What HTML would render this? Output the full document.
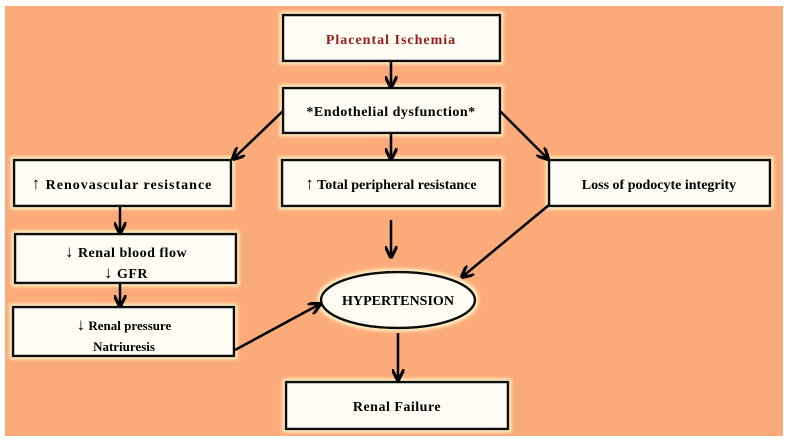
<!DOCTYPE html>
<html><head><style>
body{margin:0;background:#fff;width:789px;height:443px;overflow:hidden}
svg{display:block}
text{font-family:"Liberation Serif",serif;font-weight:bold;font-size:14px;text-anchor:middle}
.b{fill:#fffdf4;stroke:#111;stroke-width:2.5}
.l{stroke:#000;stroke-width:2.5;fill:none;marker-end:url(#a)}
</style></head><body>
<svg width="789" height="443" viewBox="0 0 789 443">
<defs>
<marker id="a" viewBox="0 0 10 10" refX="9" refY="5" markerWidth="5" markerHeight="5" orient="auto"><path d="M0,0 L10,5 L0,10" fill="none" stroke="#000" stroke-width="2.5"/></marker>
<filter id="g" x="-20%" y="-20%" width="140%" height="140%"><feMorphology operator="dilate" radius="2" in="SourceAlpha" result="d"/><feGaussianBlur in="d" stdDeviation="1.5" result="bl"/><feFlood flood-color="#fff6c8"/><feComposite in2="bl" operator="in"/><feMerge><feMergeNode/><feMergeNode in="SourceGraphic"/></feMerge></filter>
</defs>
<rect x="5" y="6" width="778" height="430" fill="#fbab7a"/>
<g filter="url(#g)">
<rect class="b" x="283" y="15" width="217" height="46"/>
<rect class="b" x="283" y="88" width="217" height="45"/>
<rect class="b" x="14" y="160" width="217" height="46"/>
<rect class="b" x="282" y="160" width="218" height="46"/>
<rect class="b" x="549" y="160" width="221" height="46"/>
<rect class="b" x="15" y="234" width="221" height="49"/>
<rect class="b" x="13" y="307" width="221" height="49"/>
<ellipse class="b" cx="398" cy="300" rx="77" ry="28"/>
<rect class="b" x="286" y="382" width="222" height="47"/>
</g>
<text x="391" y="44" fill="#9b1b1b" style="letter-spacing:1px">Placental Ischemia</text>
<text x="391" y="116" style="letter-spacing:.5px">*Endothelial dysfunction*</text>
<text x="122" y="189" style="letter-spacing:1px"><tspan font-size="17">↑</tspan> Renovascular resistance</text>
<text x="391" y="189"><tspan font-size="17">↑</tspan> Total peripheral resistance</text>
<text x="659" y="189">Loss of podocyte integrity</text>
<text x="126" y="257" style="letter-spacing:.5px"><tspan font-size="17">↓</tspan> Renal blood flow</text>
<text x="126" y="278" style="letter-spacing:.5px"><tspan font-size="17">↓</tspan> GFR</text>
<text x="124" y="330" style="font-size:13px"><tspan font-size="17">↓</tspan> Renal pressure</text>
<text x="124" y="351" style="font-size:13px">Natriuresis</text>
<text x="398" y="305" style="font-size:14px" textLength="112" lengthAdjust="spacingAndGlyphs">HYPERTENSION</text>
<text x="397" y="411" style="letter-spacing:.5px">Renal Failure</text>
<path class="l" d="M391 62 V87"/>
<path class="l" d="M283 111 L233 159"/>
<path class="l" d="M391 134 V159"/>
<path class="l" d="M500 111 L548 159"/>
<path class="l" d="M120 207 V233"/>
<path class="l" d="M120 284 V306"/>
<path class="l" d="M391 220 V257"/>
<path class="l" d="M549 205 L462 277"/>
<path class="l" d="M235 350 L320 304"/>
<path class="l" d="M398 333 V380"/>
</svg>
</body></html>
